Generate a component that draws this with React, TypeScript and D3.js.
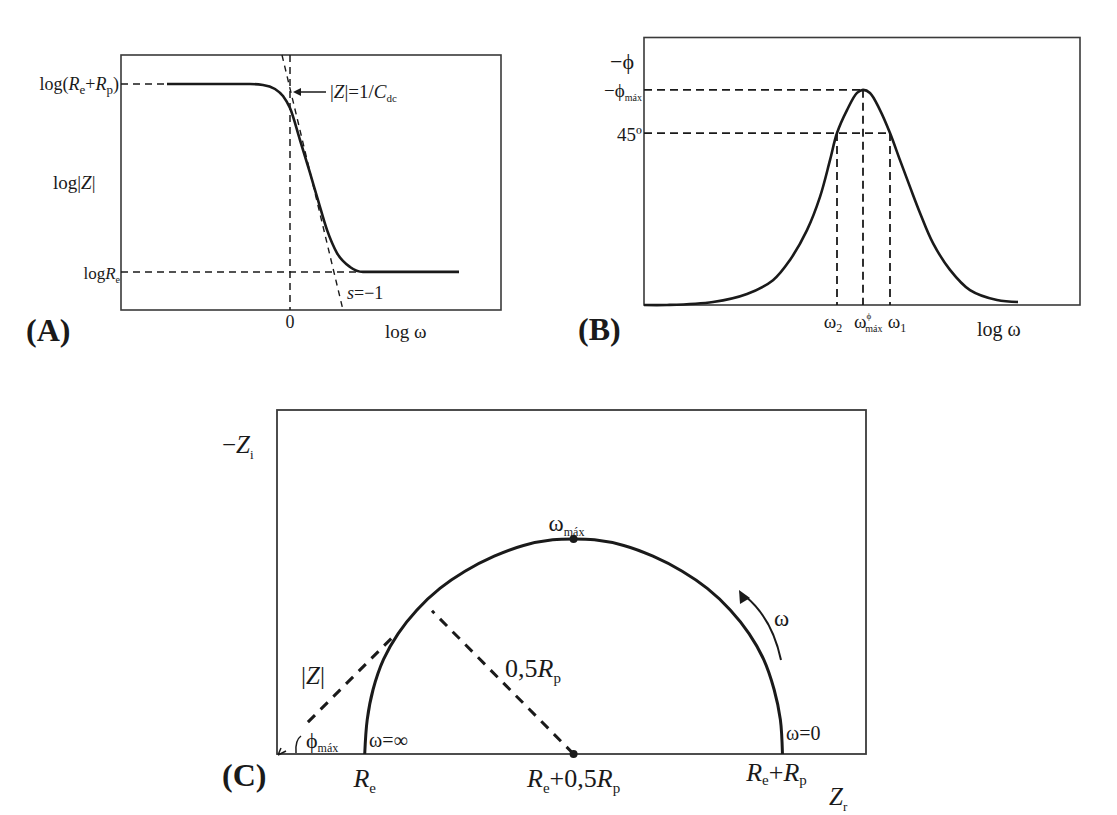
import React from 'react'
import * as d3 from 'd3'

// Panel A: Bode magnitude, log|Z| against log ω
const magLogW = [-3.075, -1.0, -0.675, -0.375, -0.175, 0, 0.25, 0.5, 0.7, 0.925, 1.175, 1.5, 1.825, 4.225]
const magLogZ = [1.329, 1.329, 1.324, 1.3, 1.259, 1.188, 1.0, 0.806, 0.647, 0.471, 0.335, 0.253, 0.224, 0.224]
const logRe = 0.224
const logReRp = 1.329
const slopeLogW = [-0.2, 1.325]
const slopeLogZ = [1.5, 0]

// Panel B: Bode phase, -phi (degrees) against log ω
const phaseLogW = [-5.475, -4.9, -3.75, -2.9, -2.25, -1.825, -1.4, -1.075, -0.825, -0.65, -0.4, -0.15, 0, 0.175, 0.425, 0.675, 0.925, 1.175, 1.425, 1.75, 2.175, 2.675, 3.35, 3.875]
const phaseDeg = [0, 0, 0.8, 2.9, 6.5, 11.8, 19.6, 28.3, 37.9, 45, 51, 55.5, 56.3, 55.5, 51, 45, 37.9, 30.9, 24.1, 16.2, 9.2, 3.9, 1.3, 0.8]
const omega2 = -0.65
const omegaMax = 0
const omega1 = 0.675
const phiMax = 56.3
const phi45 = 45

// Panel C: Nyquist, -Zi against Zr
const Re = 21
const Rp = 100
const nyqZr = [21, 21.6, 23, 25.5, 29, 33.5, 39, 45, 52, 59, 66, 71, 76, 83, 90, 97, 103, 108.5, 113, 116.5, 119, 120.5, 121]
const nyqZi = [0, 8, 15, 22, 28, 33.5, 38.5, 42.5, 46, 48.5, 49.8, 50, 49.8, 48.5, 46, 42.5, 38.5, 33.5, 28, 22, 15, 8, 0]

const serif = '"Liberation Serif", "DejaVu Serif", serif'
const ink = '#1a1a1a'
const frameInk = '#3a3a3a'

type Part = { t: string; sub?: boolean; it?: boolean }

// text pieces with italic letters and subscripts, kept in one <text>
function Rich({ parts, subSize, shift }: { parts: Part[]; subSize: number; shift: number }) {
  let cur = 0
  return (
    <>
      {parts.map((p, i) => {
        const want = p.sub ? shift : 0
        const dy = want - cur
        cur = want
        return (
          <tspan key={i} dy={dy || undefined} fontSize={p.sub ? subSize : undefined} fontStyle={p.it ? 'italic' : undefined}>
            {p.t}
          </tspan>
        )
      })}
    </>
  )
}

function PanelA() {
  const x = d3.scaleLinear().domain([-4.225, 5.275]).range([121, 501])
  const y = d3.scaleLinear().domain([0, 1.5]).range([310, 55])
  const pts = magLogW.map((w, i) => [w, magLogZ[i]] as [number, number])
  const line = d3.line<[number, number]>().x(d => x(d[0])).y(d => y(d[1])).curve(d3.curveMonotoneX)
  const dash = '7,5'
  return (
    <g fontFamily={serif} fill={ink}>
      <rect x={121} y={55} width={380} height={255} fill="none" stroke={frameInk} strokeWidth={1.6} />
      <line x1={121} x2={x(magLogW[0])} y1={y(logReRp)} y2={y(logReRp)} stroke={ink} strokeWidth={1.5} strokeDasharray={dash} />
      <line x1={121} x2={x(1.85)} y1={y(logRe)} y2={y(logRe)} stroke={ink} strokeWidth={1.5} strokeDasharray={dash} />
      <line x1={x(0)} x2={x(0)} y1={55} y2={310} stroke={ink} strokeWidth={1.5} strokeDasharray={dash} />
      <line x1={x(slopeLogW[0])} x2={x(slopeLogW[1])} y1={y(slopeLogZ[0])} y2={y(slopeLogZ[1])} stroke={ink} strokeWidth={1.4} strokeDasharray="6,5" />
      <path d={line(pts) || ''} fill="none" stroke={ink} strokeWidth={2.6} />
      <line x1={326} x2={296} y1={92} y2={92} stroke={ink} strokeWidth={1.5} />
      <path d="M293,92 L301,88 L301,96 Z" fill={ink} />
      <text x={119} y={90} fontSize={18} textAnchor="end">
        <Rich subSize={13} shift={4} parts={[{ t: 'log(' }, { t: 'R', it: true }, { t: 'e', sub: true }, { t: '+' }, { t: 'R', it: true }, { t: 'p', sub: true }, { t: ')' }]} />
      </text>
      <text x={330} y={98} fontSize={19}>
        <Rich subSize={11} shift={4} parts={[{ t: '|' }, { t: 'Z', it: true }, { t: '|=1/' }, { t: 'C', it: true }, { t: 'dc', sub: true }]} />
      </text>
      <text x={53} y={189} fontSize={19}>
        <Rich subSize={12} shift={4} parts={[{ t: 'log|' }, { t: 'Z', it: true }, { t: '|' }]} />
      </text>
      <text x={120} y={279} fontSize={17} textAnchor="end">
        <Rich subSize={10} shift={4} parts={[{ t: 'log' }, { t: 'R', it: true }, { t: 'e', sub: true }]} />
      </text>
      <text x={347} y={299} fontSize={18}>
        <Rich subSize={10} shift={4} parts={[{ t: 's', it: true }, { t: '=−1' }]} />
      </text>
      <text x={x(0)} y={328} fontSize={18} textAnchor="middle">0</text>
      <text x={385} y={338} fontSize={19}>log ω</text>
      <text x={26} y={341} fontSize={32} fontWeight="bold">(A)</text>
    </g>
  )
}

function PanelB() {
  const x = d3.scaleLinear().domain([-5.475, 5.425]).range([644, 1080])
  const y = d3.scaleLinear().domain([0, 70]).range([305, 37.5])
  const pts = phaseLogW.map((w, i) => [w, phaseDeg[i]] as [number, number])
  const line = d3.line<[number, number]>().x(d => x(d[0])).y(d => y(d[1])).curve(d3.curveCatmullRom)
  const dash = '8,5'
  return (
    <g fontFamily={serif} fill={ink}>
      <rect x={644} y={37.5} width={436} height={267.5} fill="none" stroke={frameInk} strokeWidth={1.6} />
      <line x1={644} x2={x(omegaMax)} y1={y(phiMax)} y2={y(phiMax)} stroke={ink} strokeWidth={1.8} strokeDasharray={dash} />
      <line x1={644} x2={x(omega1)} y1={y(phi45)} y2={y(phi45)} stroke={ink} strokeWidth={1.8} strokeDasharray={dash} />
      <line x1={x(omegaMax)} x2={x(omegaMax)} y1={y(phiMax)} y2={305} stroke={ink} strokeWidth={1.8} strokeDasharray={dash} />
      <line x1={x(omega2)} x2={x(omega2)} y1={y(phi45)} y2={305} stroke={ink} strokeWidth={1.8} strokeDasharray={dash} />
      <line x1={x(omega1)} x2={x(omega1)} y1={y(phi45)} y2={305} stroke={ink} strokeWidth={1.8} strokeDasharray={dash} />
      <path d={line(pts) || ''} fill="none" stroke={ink} strokeWidth={2.6} />
      <text x={610} y={69} fontSize={22}>−ϕ</text>
      <text x={642} y={97} fontSize={19} textAnchor="end">
        <Rich subSize={10} shift={4} parts={[{ t: '−ϕ' }, { t: 'máx', sub: true }]} />
      </text>
      <text x={642} y={141} fontSize={19} textAnchor="end">45º</text>
      <text x={x(omega2) - 4} y={328} fontSize={19} textAnchor="middle">
        <Rich subSize={12} shift={4} parts={[{ t: 'ω' }, { t: '2', sub: true }]} />
      </text>
      <text x={x(omegaMax) - 9} y={328} fontSize={19}>
        ω<tspan dy={-9} fontSize={9}>ϕ</tspan><tspan dx={-6} dy={13} fontSize={10}>máx</tspan>
      </text>
      <text x={x(omega1) + 7} y={328} fontSize={19} textAnchor="middle">
        <Rich subSize={12} shift={4} parts={[{ t: 'ω' }, { t: '1', sub: true }]} />
      </text>
      <text x={977} y={336} fontSize={20}>log ω</text>
      <text x={578} y={340} fontSize={32} fontWeight="bold">(B)</text>
    </g>
  )
}

function PanelC() {
  const x = d3.scaleLinear().domain([0, 141]).range([277, 866])
  const y = d3.scaleLinear().domain([0, 80]).range([754, 410])
  const pts = nyqZr.map((r, i) => [r, nyqZi[i]] as [number, number])
  const line = d3.line<[number, number]>().x(d => x(d[0])).y(d => y(d[1])).curve(d3.curveCatmullRom)
  const centre = Re + Rp / 2
  const dash = '10,8'
  return (
    <g fontFamily={serif} fill={ink}>
      <rect x={277} y={410} width={589} height={344} fill="none" stroke={frameInk} strokeWidth={1.8} />
      <path d={line(pts) || ''} fill="none" stroke={ink} strokeWidth={3} />
      <line x1={x(7.4)} y1={y(7.4)} x2={x(27.5)} y2={y(27)} stroke={ink} strokeWidth={3} strokeDasharray={dash} />
      <line x1={x(centre)} y1={y(0)} x2={x(37.1)} y2={y(33.3)} stroke={ink} strokeWidth={3} strokeDasharray={dash} />
      <circle cx={x(centre)} cy={y(0)} r={4} fill={ink} />
      <circle cx={x(centre)} cy={y(50)} r={4} fill={ink} />
      <path d="M781,660 Q772,618 745,596" fill="none" stroke={ink} strokeWidth={2} />
      <path d="M739,590 L740,604 L750,598 Z" fill={ink} />
      <path d="M296,753 Q295,740 301,736" fill="none" stroke={ink} strokeWidth={1.5} />
      <path d="M278,755 L286,751 M278,755 L281,748" fill="none" stroke={ink} strokeWidth={1.5} />
      <text x={222} y={453} fontSize={25}>
        <Rich subSize={13} shift={6} parts={[{ t: '−' }, { t: 'Z', it: true }, { t: 'i', sub: true }]} />
      </text>
      <text x={x(centre) - 25} y={531} fontSize={23}>
        <Rich subSize={12} shift={5} parts={[{ t: 'ω' }, { t: 'máx', sub: true }]} />
      </text>
      <text x={774} y={626} fontSize={23}>ω</text>
      <text x={505} y={677} fontSize={26}>
        <Rich subSize={15} shift={6} parts={[{ t: '0,5' }, { t: 'R', it: true }, { t: 'p', sub: true }]} />
      </text>
      <text x={301} y={684} fontSize={25}>
        <Rich subSize={13} shift={6} parts={[{ t: '|' }, { t: 'Z', it: true }, { t: '|' }]} />
      </text>
      <text x={306} y={748} fontSize={22}>
        <Rich subSize={12} shift={4} parts={[{ t: 'ϕ' }, { t: 'máx', sub: true }]} />
      </text>
      <text x={369} y={747} fontSize={20}>ω=∞</text>
      <text x={786} y={740} fontSize={20}>ω=0</text>
      <text x={222} y={786} fontSize={32} fontWeight="bold">(C)</text>
      <text x={x(Re)} y={787} fontSize={26} textAnchor="middle">
        <Rich subSize={15} shift={6} parts={[{ t: 'R', it: true }, { t: 'e', sub: true }]} />
      </text>
      <text x={x(centre)} y={787} fontSize={26} textAnchor="middle">
        <Rich subSize={15} shift={6} parts={[{ t: 'R', it: true }, { t: 'e', sub: true }, { t: '+0,5' }, { t: 'R', it: true }, { t: 'p', sub: true }]} />
      </text>
      <text x={x(Re + Rp) - 6} y={781} fontSize={26} textAnchor="middle">
        <Rich subSize={15} shift={4} parts={[{ t: 'R', it: true }, { t: 'e', sub: true }, { t: '+' }, { t: 'R', it: true }, { t: 'p', sub: true }]} />
      </text>
      <text x={829} y={805} fontSize={25}>
        <Rich subSize={13} shift={6} parts={[{ t: 'Z', it: true }, { t: 'r', sub: true }]} />
      </text>
    </g>
  )
}

export default function App() {
  return (
    <svg width={1117} height={815} style={{ position: 'absolute', left: 0, top: 0, background: '#fff' }}>
      <rect width={1117} height={815} fill="#fff" />
      <PanelA />
      <PanelB />
      <PanelC />
    </svg>
  )
}
